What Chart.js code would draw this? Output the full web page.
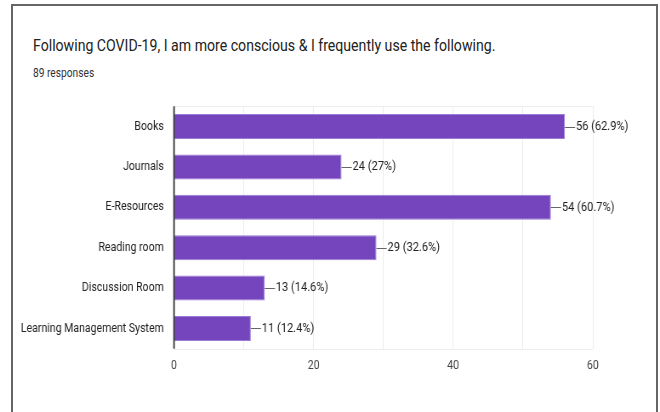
<!DOCTYPE html>
<html>
<head>
<meta charset="utf-8">
<script src="https://cdn.jsdelivr.net/npm/chart.js@4.4.0/dist/chart.umd.min.js"></script>
<style>
  html, body { margin: 0; padding: 0; background: #fff; }
  #wrap { position: relative; width: 660px; height: 412px; overflow: hidden; font-family: Roboto, sans-serif; }
  #frame {
    position: absolute; left: 11px; top: 4px; width: 643px; height: 420px;
    border: 2px solid #666; border-bottom: none; pointer-events: none;
  }
  /* the reference screenshot is squeezed sideways, so the text and canvas are too */
  .squeeze { transform: scaleX(0.8505); transform-origin: 0 0; }
  #title {
    position: absolute; left: 33px; top: 36px; white-space: nowrap;
    font-size: 16.6px; line-height: 20px; color: #212121;
  }
  #subtitle {
    position: absolute; left: 33px; top: 65.5px; white-space: nowrap;
    font-size: 12px; line-height: 14px; color: #333;
  }
  #chart {
    position: absolute; left: 0; top: 0;
    width: 776px; height: 412px;
  }
</style>
</head>
<body>
<div id="wrap">
  <div id="title" class="squeeze">Following COVID-19, I am more conscious &amp; I frequently use the following.</div>
  <div id="subtitle" class="squeeze">89 responses</div>
  <canvas id="chart" class="squeeze" width="776" height="412"></canvas>
  <div id="frame"></div>
</div>
<script>
var categories = ["Books", "Journals", "E-Resources", "Reading room", "Discussion Room", "Learning Management System"];
var counts = [56, 24, 54, 29, 13, 11];
var percents = ["62.9%", "27%", "60.7%", "32.6%", "14.6%", "12.4%"];
var gridSteps = [0, 10, 20, 30, 40, 50, 60];
var xTicks = [0, 20, 40, 60];

var barColor = "#7445bd";

// labels like "—56 (62.9%)" at the end of each bar
var valueLabels = {
  id: "valueLabels",
  afterDatasetsDraw: function (chart) {
    var ctx = chart.ctx;
    var meta = chart.getDatasetMeta(0);
    ctx.save();
    ctx.font = "13px Roboto";
    ctx.textBaseline = "middle";
    ctx.textAlign = "left";
    meta.data.forEach(function (bar, i) {
      var y = Math.round(bar.y) + 0.5;
      ctx.strokeStyle = "#666";
      ctx.lineWidth = 1;
      ctx.beginPath();
      ctx.moveTo(bar.x, y);
      ctx.lineTo(bar.x + 12, y);
      ctx.stroke();
      ctx.fillStyle = "#222";
      ctx.fillText(counts[i] + " (" + percents[i] + ")", bar.x + 13, bar.y);
    });
    ctx.restore();
  }
};

// light lines on top and bottom of the plot, dark line on the left
var plotFrame = {
  id: "plotFrame",
  beforeDatasetsDraw: function (chart) {
    var a = chart.chartArea;
    var ctx = chart.ctx;
    ctx.save();
    ctx.strokeStyle = "#ececec";
    ctx.lineWidth = 1;
    ctx.beginPath();
    ctx.moveTo(a.left, Math.round(a.top) + 0.5);
    ctx.lineTo(a.right, Math.round(a.top) + 0.5);
    ctx.moveTo(a.left, Math.round(a.bottom) + 0.5);
    ctx.lineTo(a.right, Math.round(a.bottom) + 0.5);
    ctx.stroke();
    ctx.restore();
  },
  afterDatasetsDraw: function (chart) {
    var a = chart.chartArea;
    var ctx = chart.ctx;
    ctx.save();
    ctx.strokeStyle = "#333";
    ctx.lineWidth = 1.8;
    ctx.beginPath();
    ctx.moveTo(a.left, a.top);
    ctx.lineTo(a.left, a.bottom);
    ctx.stroke();
    ctx.restore();
  }
};

new Chart("chart", {
  type: "bar",
  data: {
    labels: categories,
    datasets: [
      {
        data: counts,
        backgroundColor: barColor,
        borderColor: "#9b7bd6",
        borderWidth: 1,
        barPercentage: 0.62,
        categoryPercentage: 1.0
      }
    ]
  },
  options: {
    indexAxis: "y",
    responsive: false,
    animation: false,
    layout: { padding: { left: 15, right: 79, top: 106.3, bottom: 33.3 } },
    plugins: {
      legend: { display: false },
      tooltip: { enabled: false }
    },
    scales: {
      x: {
        min: 0,
        max: 60,
        afterFit: function (scale) { scale.height = 30; },
        afterBuildTicks: function (scale) {
          scale.ticks = gridSteps.map(function (v) { return { value: v }; });
        },
        ticks: {
          padding: 10,
          color: "#444",
          font: { family: "Roboto", size: 12.5 },
          autoSkip: false,
          maxRotation: 0,
          callback: function (v) { return xTicks.indexOf(v) >= 0 ? String(v) : ""; }
        },
        grid: { color: "#ececec", drawTicks: false },
        border: { display: false }
      },
      y: {
        afterFit: function (scale) { scale.width = 189.6; },
        ticks: {
          padding: 12,
          color: "#222",
          font: { family: "Roboto", size: 12.4 }
        },
        grid: { display: false, drawTicks: false },
        border: { display: false }
      }
    }
  },
  plugins: [plotFrame, valueLabels]
});
</script>
</body>
</html>
